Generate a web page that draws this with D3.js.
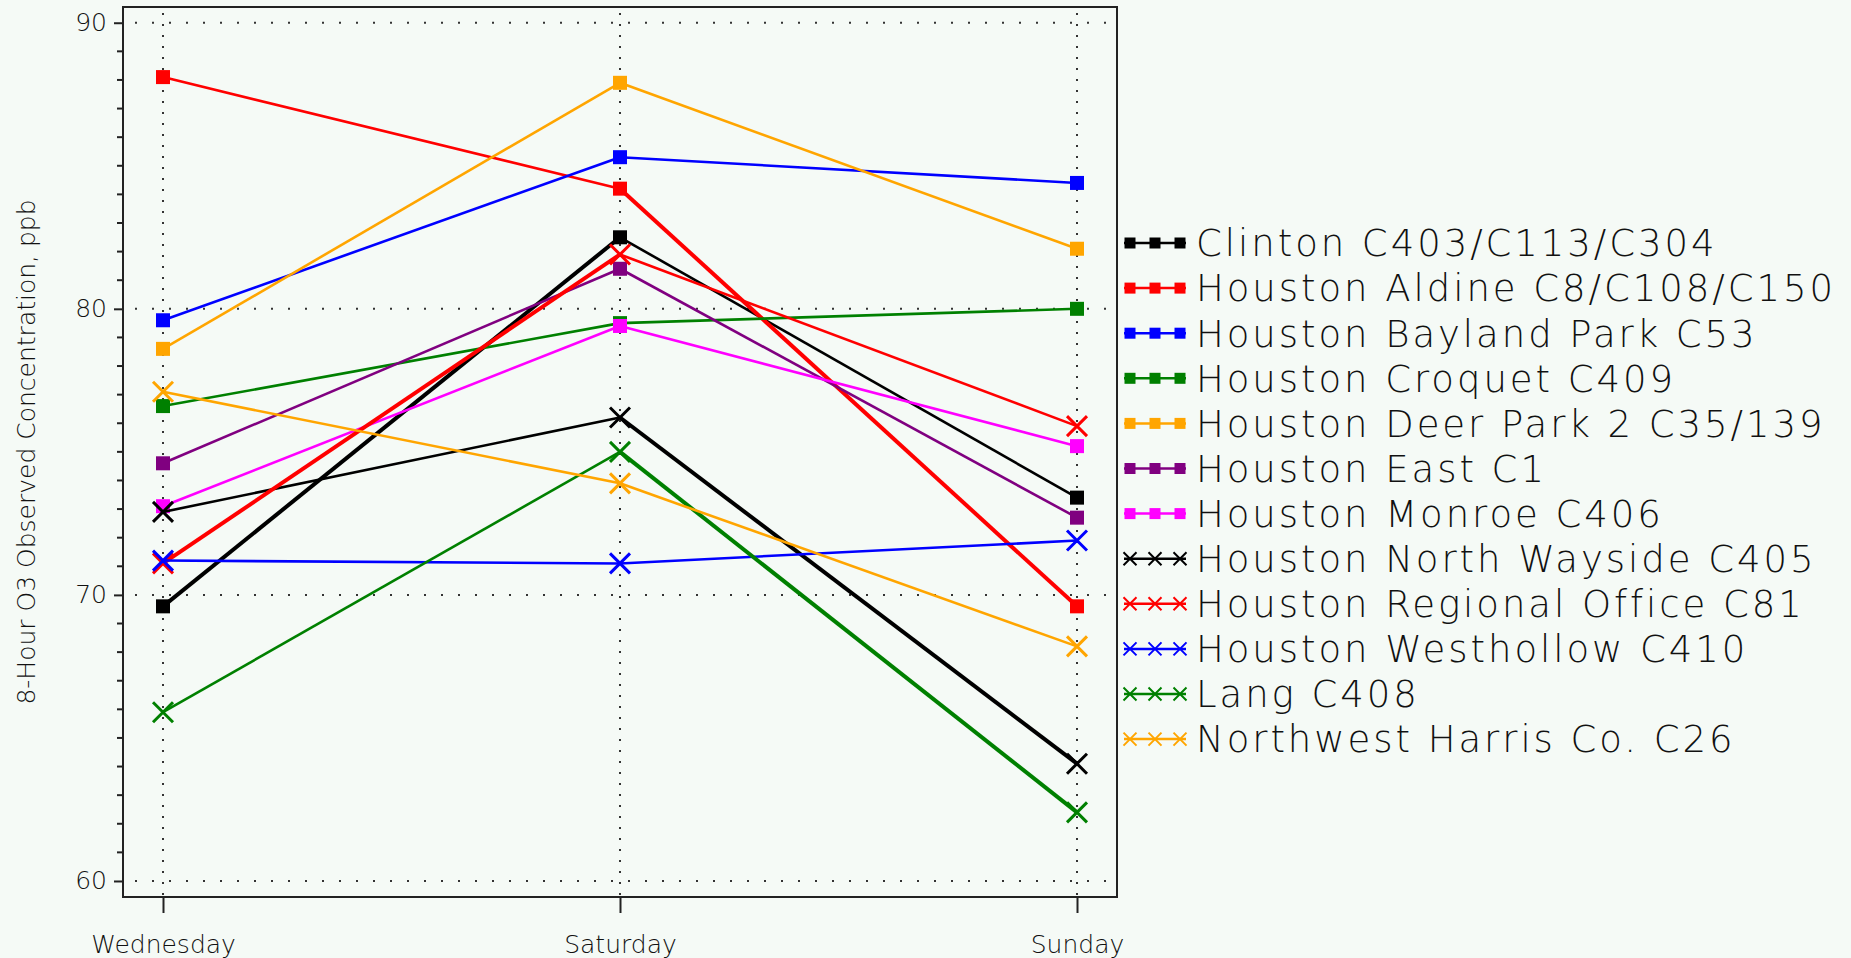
<!DOCTYPE html>
<html>
<head>
<meta charset="utf-8">
<script src="https://cdn.jsdelivr.net/npm/d3@7"></script>
<style>
  html, body { margin: 0; padding: 0; background: #f5faf6; }
  svg { display: block; }
  text { font-family: "DejaVu Sans", "Noto Sans", sans-serif; font-weight: 200; fill: #111; }
</style>
</head>
<body>
<svg id="chart" width="1851" height="958"></svg>
<script>
// Days of the week shown along the x axis
const days = ["Wednesday", "Saturday", "Sunday"];

// Monitoring sites (legend order)
const sites = [
  "Clinton C403/C113/C304",
  "Houston Aldine C8/C108/C150",
  "Houston Bayland Park C53",
  "Houston Croquet C409",
  "Houston Deer Park 2 C35/139",
  "Houston East C1",
  "Houston Monroe C406",
  "Houston North Wayside C405",
  "Houston Regional Office C81",
  "Houston Westhollow C410",
  "Lang C408",
  "Northwest Harris Co. C26"
];

// 8-hour ozone, ppb — Wednesday, Saturday, Sunday
const clinton        = [69.6, 82.5, 73.4];
const aldine         = [88.1, 84.2, 69.6];
const baylandPark    = [79.6, 85.3, 84.4];
const croquet        = [76.6, 79.5, 80.0];
const deerPark2      = [78.6, 87.9, 82.1];
const houstonEast    = [74.6, 81.4, 72.7];
const monroe         = [73.1, 79.4, 75.2];
const northWayside   = [72.9, 76.2, 64.1];
const regionalOffice = [71.1, 81.9, 75.9];
const westhollow     = [71.2, 71.1, 71.9];
const lang           = [65.9, 75.0, 62.4];
const nwHarris       = [77.1, 73.9, 68.2];

const seriesValues = [clinton, aldine, baylandPark, croquet, deerPark2, houstonEast,
                      monroe, northWayside, regionalOffice, westhollow, lang, nwHarris];

const siteColors = ["#000000", "#ff0000", "#0000ff", "#008000", "#ffa500", "#800080",
                    "#ff00ff", "#000000", "#ff0000", "#0000ff", "#008000", "#ffa500"];
const siteSymbols = ["square", "square", "square", "square", "square", "square",
                     "square", "cross", "cross", "cross", "cross", "cross"];

const yMajorTicks = [60, 70, 80, 90];
const yTitle = "8-Hour O3 Observed Concentration, ppb";

// ---- layout ----
const frame = { left: 123, right: 1117, top: 7, bottom: 897 };
const svg = d3.select("#chart");

const x = d3.scalePoint().domain(days).range([163, 1077]);
const y = d3.scaleLinear().domain([59.44, 90.55]).range([frame.bottom, frame.top]);

// dotted grid
const grid = svg.append("g");
grid.selectAll("line.hg").data(yMajorTicks).join("line")
  .attr("class", "hg")
  .attr("x1", frame.left).attr("x2", frame.right)
  .attr("y1", d => y(d)).attr("y2", d => y(d))
  .attr("stroke", "#333").attr("stroke-width", 2)
  .attr("stroke-dasharray", "2,15").attr("stroke-dashoffset", -12);
grid.selectAll("line.vg").data(days).join("line")
  .attr("class", "vg")
  .attr("x1", d => x(d)).attr("x2", d => x(d))
  .attr("y1", frame.top + 6).attr("y2", frame.bottom)
  .attr("stroke", "#333").attr("stroke-width", 2)
  .attr("stroke-dasharray", "2,9");

// frame
svg.append("rect")
  .attr("x", frame.left).attr("y", frame.top)
  .attr("width", frame.right - frame.left).attr("height", frame.bottom - frame.top)
  .attr("fill", "none").attr("stroke", "#222").attr("stroke-width", 2);

// y axis: major + minor ticks pointing outward
const yAxisG = svg.append("g").attr("transform", `translate(${frame.left},0)`);
yAxisG.call(d3.axisLeft(y).tickValues(yMajorTicks).tickSize(9).tickPadding(7).tickFormat(d3.format("d")))
  .call(g => g.select(".domain").remove())
  .call(g => g.selectAll(".tick line").attr("stroke", "#222").attr("stroke-width", 2))
  .call(g => g.selectAll(".tick text").attr("font-size", 25).attr("fill", "#111")
      .style("font-family", "\"DejaVu Sans\", sans-serif").style("font-weight", 200));
const minor = d3.range(60, 91).filter(v => !yMajorTicks.includes(v));
yAxisG.selectAll("line.minor").data(minor).join("line")
  .attr("class", "minor")
  .attr("x1", -6).attr("x2", 0)
  .attr("y1", d => y(d)).attr("y2", d => y(d))
  .attr("stroke", "#222").attr("stroke-width", 2);

// x axis
svg.append("g").attr("transform", `translate(0,${frame.bottom})`)
  .call(d3.axisBottom(x).tickSize(16).tickPadding(22))
  .call(g => g.select(".domain").remove())
  .call(g => g.selectAll(".tick line").attr("stroke", "#222").attr("stroke-width", 2))
  .call(g => g.selectAll(".tick text").attr("font-size", 25).attr("fill", "#111")
      .style("font-family", "\"DejaVu Sans\", sans-serif").style("font-weight", 200));

// y axis title
svg.append("text")
  .attr("transform", `translate(35,${(frame.top + frame.bottom) / 2}) rotate(-90)`)
  .attr("text-anchor", "middle")
  .attr("font-size", 25)
  .text(yTitle);

// line width grows for steep segments
function segWidth(p, q) {
  const s = Math.abs((q[1] - p[1]) / (q[0] - p[0]));
  return s > 0.65 ? 4 : 2.6;
}

function drawSymbol(g, type, cx, cy, size, color, sw) {
  if (type === "square") {
    g.append("rect").attr("x", cx - size / 2).attr("y", cy - size / 2)
      .attr("width", size).attr("height", size).attr("fill", color);
  } else {
    const h = size / 2;
    g.append("path")
      .attr("d", `M${cx - h},${cy - h}L${cx + h},${cy + h}M${cx - h},${cy + h}L${cx + h},${cy - h}`)
      .attr("stroke", color).attr("stroke-width", sw).attr("fill", "none");
  }
}

// series
const plotG = svg.append("g");
seriesValues.forEach((vals, i) => {
  const g = plotG.append("g");
  const pts = vals.map((v, j) => [x(days[j]), y(v)]);
  d3.pairs(pts).forEach(([p, q]) => {
    g.append("line")
      .attr("x1", p[0]).attr("y1", p[1]).attr("x2", q[0]).attr("y2", q[1])
      .attr("stroke", siteColors[i]).attr("stroke-width", segWidth(p, q));
  });
  pts.forEach(p => drawSymbol(g, siteSymbols[i], p[0], p[1],
    siteSymbols[i] === "square" ? 14 : 20, siteColors[i], 3));
});

// legend
const legend = svg.append("g");
const lx0 = 1124, lx1 = 1186, ly0 = 243, lstep = 45.1;
sites.forEach((name, i) => {
  const g = legend.append("g");
  const cy = ly0 + i * lstep;
  g.append("line").attr("x1", lx0).attr("x2", lx1).attr("y1", cy).attr("y2", cy)
    .attr("stroke", siteColors[i]).attr("stroke-width", 2.5);
  [lx0 + 6, (lx0 + lx1) / 2, lx1 - 6].forEach(px =>
    drawSymbol(g, siteSymbols[i], px, cy, siteSymbols[i] === "square" ? 11 : 13, siteColors[i], 2));
  g.append("text").attr("class", "lg")
    .attr("x", 1196).attr("y", cy)
    .attr("dy", "0.36em")
    .attr("font-size", 37)
    .text(name);
});
// spread the legend lettering so the widest label spans its measured width
const lg = legend.selectAll("text.lg");
let widest = 0;
lg.each(function () { widest = Math.max(widest, this.getComputedTextLength()); });
const widestChars = d3.max(sites, s => s.length);
const spacing = Math.max(0, (637 - widest) / (widestChars - 1));
lg.style("letter-spacing", spacing + "px");
</script>
</body>
</html>
